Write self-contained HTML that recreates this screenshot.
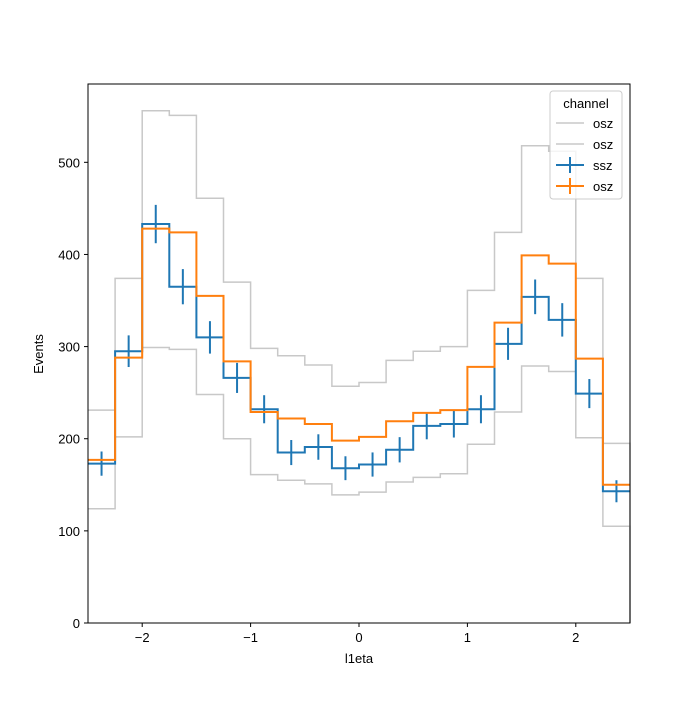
<!DOCTYPE html>
<html><head><meta charset="utf-8"><style>
body{margin:0;background:#fff;}
svg{font-family:"Liberation Sans","DejaVu Sans",sans-serif;}
</style></head><body>
<svg id="chart" width="700" height="700" viewBox="0 0 700 700">
<rect width="700" height="700" fill="#fff"/>
<g id="plot"></g>
<rect x="88" y="84" width="542" height="539" fill="none" stroke="#000" stroke-width="1"/>
<g id="ticks"></g>
<text x="359" y="663" text-anchor="middle" font-size="13">l1eta</text>
<text transform="translate(43,354) rotate(-90)" text-anchor="middle" font-size="13">Events</text>
<g>
<rect x="550" y="91" width="72" height="108" rx="3" fill="#fff" fill-opacity="0.8" stroke="#ccc"/>
<text x="586" y="108" text-anchor="middle" font-size="13">channel</text>
<g><line x1="556" x2="584" y1="123" y2="123" stroke="#c8c8c8" stroke-width="1.5"/><text x="593" y="128" font-size="13">osz</text></g>
<g><line x1="556" x2="584" y1="144" y2="144" stroke="#c8c8c8" stroke-width="1.5"/><text x="593" y="149" font-size="13">osz</text></g>
<g><line x1="556" x2="584" y1="165" y2="165" stroke="#1f77b4" stroke-width="2"/><line x1="570" x2="570" y1="157" y2="173" stroke="#1f77b4" stroke-width="2"/><text x="593" y="170" font-size="13">ssz</text></g>
<g><line x1="556" x2="584" y1="186" y2="186" stroke="#ff7f0e" stroke-width="2"/><line x1="570" x2="570" y1="178" y2="194" stroke="#ff7f0e" stroke-width="2"/><text x="593" y="191" font-size="13">osz</text></g>
</g>
</svg>
<script>
const binEdgesStart = -2.5;
const binWidth = 0.25;
const ssz = [173,295,433,365,310,266,232,185,191,168,172,188,214,216,232,303,354,329,249,143];
const osz = [177,288,428,424,355,284,229,222,216,198,202,219,228,231,278,326,399,390,287,150];
const oszUp = [231,374,556,551,461,370,298,290,280,257,261,285,295,300,361,424,518,512,374,195];
const oszDown = [124,202,299,297,248,200,161,155,151,139,142,153,158,162,194,229,279,273,201,105];
const xTicks = [-2,-1,0,1,2];
const xTickLabels = ["\u22122","\u22121","0","1","2"];
const yTicks = [0,100,200,300,400,500];

const NS="http://www.w3.org/2000/svg";
const X0=88,X1=630,Y0=623,Y1=84;
const xMin=-2.5,xMax=2.5,yMin=0,yMax=585;
function sx(v){return X0+(v-xMin)/(xMax-xMin)*(X1-X0);}
function sy(v){return Y0-(v-yMin)/(yMax-yMin)*(Y0-Y1);}
const plot=document.getElementById('plot');
function mk(tag,attrs,parent){const e=document.createElementNS(NS,tag);for(const k in attrs)e.setAttribute(k,attrs[k]);parent.appendChild(e);return e;}
function stepPath(vals,drop){
  let d='';
  vals.forEach((v,i)=>{const a=sx(binEdgesStart+i*binWidth),b=sx(binEdgesStart+(i+1)*binWidth);
    d+=(i===0?'M':'L')+a+','+sy(v)+'L'+b+','+sy(v);});
  if(drop)d+='L'+sx(binEdgesStart+vals.length*binWidth)+','+sy(0);
  return d;
}
const gu=mk('path',{d:stepPath(oszUp,true),fill:'none',stroke:'#c8c8c8','stroke-width':1.5},plot);


const gd=mk('path',{d:stepPath(oszDown,true),fill:'none',stroke:'#c8c8c8','stroke-width':1.5},plot);


const bs=mk('path',{d:stepPath(ssz,false),fill:'none',stroke:'#1f77b4','stroke-width':2},plot);


ssz.forEach((v,i)=>{
  const c=binEdgesStart+(i+0.5)*binWidth,e=Math.sqrt(v);
  const g=mk('g',{},plot);
  
  
  mk('line',{x1:sx(c),x2:sx(c),y1:sy(v-e),y2:sy(v+e),stroke:'#1f77b4','stroke-width':2},g);
});
const os=mk('path',{d:stepPath(osz,false),fill:'none',stroke:'#ff7f0e','stroke-width':2},plot);



const tk=document.getElementById('ticks');
xTicks.forEach((t,i)=>{
  const x=sx(t);
  const l=mk('line',{x1:x,x2:x,y1:Y0,y2:Y0+4,stroke:'#000'},tk);
  
  
  const tx=mk('text',{x:x,y:Y0+19,'text-anchor':'middle','font-size':13},tk);
  tx.textContent=xTickLabels[i];
  
  
});
yTicks.forEach(t=>{
  const y=sy(t);
  const l=mk('line',{x1:X0-4,x2:X0,y1:y,y2:y,stroke:'#000'},tk);
  
  
  const tx=mk('text',{x:X0-8,y:y+5,'text-anchor':'end','font-size':13},tk);
  tx.textContent=t;
  
  
});
</script>
</body></html>
